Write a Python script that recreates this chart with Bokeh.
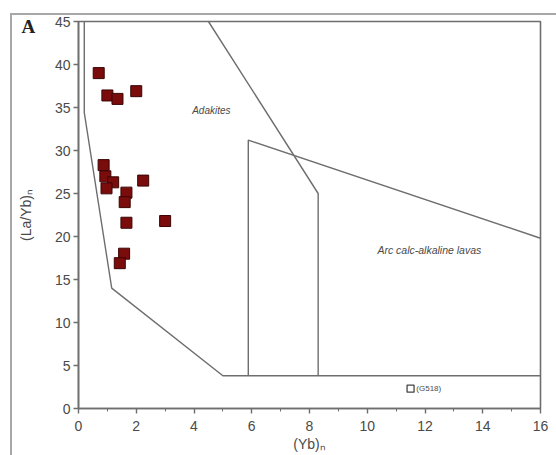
import math
from bokeh.plotting import figure
from bokeh.models import Range1d, SingleIntervalTicker, Label, InlineStyleSheet
from bokeh.embed import file_html
from bokeh.resources import INLINE

# Sample data: (Yb)n vs (La/Yb)n
sample_yb = [0.7, 1.0, 1.35, 2.0, 0.87, 0.93, 1.2, 0.97, 2.24, 1.66, 1.6, 1.66, 3.0, 1.58, 1.43]
sample_layb = [39.0, 36.4, 36.0, 36.9, 28.3, 27.0, 26.3, 25.6, 26.5, 25.1, 24.0, 21.6, 21.8, 18.0, 16.9]

# Outlier sample G518
g518_yb = [11.5]
g518_layb = [2.3]

# Field boundaries
lower_bound_x = [0.2, 0.2, 1.15, 5.0, 16.0]
lower_bound_y = [45.0, 34.4, 14.0, 3.8, 3.8]

adakite_bound_x = [4.5, 8.3, 8.3]
adakite_bound_y = [45.0, 25.0, 3.8]

arc_bound_x = [5.88, 5.88, 16.0]
arc_bound_y = [3.8, 31.2, 19.8]

x_ticks_interval = 2
y_ticks_interval = 5

W, H = 556, 455
FL, FB = 77, 408  # frame left / frame bottom in canvas pixels
FONT = "Liberation Sans"
LINE = "#6e6e6e"
TXT = "#4a4a4a"

border_css = InlineStyleSheet(css="""
:host::after {
  content: '';
  position: absolute;
  left: 10px; top: 13px; right: 0; bottom: 0;
  border-left: 2px solid #a8a8a8;
  border-top: 2px solid #a8a8a8;
  pointer-events: none;
}
""")

p = figure(width=W, height=H, output_backend="svg", toolbar_location=None,
           x_range=Range1d(0, 16), y_range=Range1d(0, 45),
           min_border_left=FL, min_border_right=16, min_border_top=21,
           min_border_bottom=H - FB, stylesheets=[border_css])
p.grid.visible = False
p.background_fill_color = "white"
p.border_fill_color = "white"
p.outline_line_color = LINE
p.outline_line_width = 1.6

p.xaxis.ticker = SingleIntervalTicker(interval=x_ticks_interval, num_minor_ticks=2)
p.yaxis.ticker = SingleIntervalTicker(interval=y_ticks_interval, num_minor_ticks=0)
for ax in (p.xaxis, p.yaxis):
    ax.axis_line_color = LINE
    ax.axis_line_width = 1.6
    ax.major_tick_line_color = LINE
    ax.major_tick_line_width = 1.4
    ax.minor_tick_line_color = LINE
    ax.major_tick_in = 0
    ax.major_tick_out = 5
    ax.minor_tick_in = 0
    ax.minor_tick_out = 3
    ax.major_label_text_font = FONT
    ax.major_label_text_font_size = "14px"
    ax.major_label_text_color = TXT
    ax.axis_label_text_font = FONT
    ax.axis_label_text_font_size = "14px"
    ax.axis_label_text_font_style = "normal"
    ax.axis_label_text_color = TXT
p.xaxis.major_label_standoff = 7
p.yaxis.major_label_standoff = 3
p.xaxis.axis_label = "(Yb)\u2099"
p.yaxis.axis_label = "(La/Yb)\u2099"
p.xaxis.axis_label_standoff = 2
p.yaxis.axis_label_standoff = 18

# Field boundaries
p.line(lower_bound_x, lower_bound_y, line_color=LINE, line_width=1.4)
p.line(adakite_bound_x, adakite_bound_y, line_color=LINE, line_width=1.4)
p.line(arc_bound_x, arc_bound_y, line_color=LINE, line_width=1.4)

# Samples
p.scatter(sample_yb, sample_layb, marker="square", size=11,
          fill_color="#7a0c0c", line_color="#3a0505", line_width=1)
p.scatter(g518_yb, g518_layb, marker="square", size=7,
          fill_color="white", line_color="#444444", line_width=1.3)

p.add_layout(Label(x=11.7, y=2.3, text="(G518)", text_font=FONT,
                   text_font_size="8px", text_color=TXT, text_baseline="middle"))
p.add_layout(Label(x=4.6, y=34.7, text="Adakites", text_font=FONT,
                   text_font_style="italic", text_font_size="10px", text_color=TXT,
                   text_align="center", text_baseline="middle"))
p.add_layout(Label(x=12.15, y=18.4, text="Arc calc-alkaline lavas", text_font=FONT,
                   text_font_style="italic", text_font_size="10.5px", text_color=TXT,
                   text_align="center", text_baseline="middle"))

# Panel letter (placed in the left side panel so it is not clipped to the frame)
p.add_layout(Label(x=21, y=FB - 36, x_units="screen", y_units="screen", text="A",
                   text_font="Liberation Serif", text_font_style="bold",
                   text_font_size="19px", text_color="#222222"), "left")

open("out.html", "w").write(file_html(p, INLINE))
